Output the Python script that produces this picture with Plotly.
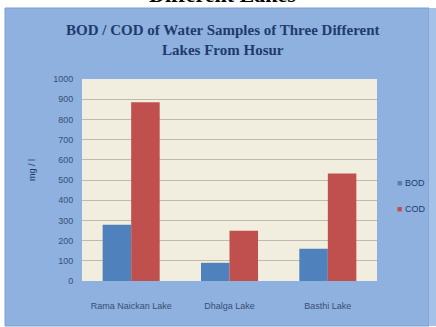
import plotly.graph_objects as go

# Sample data (mg / l)
lakes = ["Rama Naickan Lake", "Dhalga Lake", "Basthi Lake"]
bod = [278, 90, 160]
cod = [885, 249, 532]
y_ticks = list(range(0, 1001, 100))
series_colors = {"BOD": "#4F81BD", "COD": "#C0504D"}

W, H = 436, 327
L, R, T, B = 82, 59, 79, 46
PW, PH = W - L - R, H - T - B


def px(x):
    return (x - L) / PW


def py(y):
    return 1 - (y - T) / PH


fig = go.Figure()
fig.add_trace(go.Bar(name="BOD", x=lakes, y=bod, marker_color=series_colors["BOD"],
                     marker_line_width=0))
fig.add_trace(go.Bar(name="COD", x=lakes, y=cod, marker_color=series_colors["COD"],
                     marker_line_width=0))

shapes = [
    # blue chart panel behind everything
    dict(type="rect", xref="paper", yref="paper", layer="below",
         x0=px(5), x1=px(429), y0=py(326), y1=py(8),
         fillcolor="#8EB1E0", line=dict(color="#7C9FD0", width=1)),
    dict(type="rect", xref="paper", yref="paper", layer="below",
         x0=px(429), x1=px(437), y0=py(326), y1=py(8),
         fillcolor="#A4C1E8", line=dict(width=0)),
    # cream plot area
    dict(type="rect", xref="paper", yref="paper", layer="below",
         x0=0, x1=1, y0=0, y1=1,
         fillcolor="#F1EEDF", line=dict(width=0)),
]

annotations = [
    dict(text="<b>Different Lakes</b>", xref="paper", yref="paper",
         x=px(222), y=py(-6), showarrow=False, xanchor="center", yanchor="middle",
         font=dict(family="Liberation Serif", size=22, color="#000000")),
    dict(text="<b>BOD / COD of Water Samples of Three Different<br>Lakes From Hosur</b>",
         xref="paper", yref="paper", x=px(223), y=py(40), showarrow=False,
         xanchor="center", yanchor="middle",
         font=dict(family="Liberation Serif", size=15, color="#1F3B6B")),
    dict(text="mg / l", xref="paper", yref="paper", x=px(32), y=py(170),
         showarrow=False, textangle=-90, xanchor="center", yanchor="middle",
         font=dict(family="Liberation Sans", size=9, color="#1F3B6B")),
]

# legend entries drawn as compact text keys
for i, (name, col) in enumerate(series_colors.items()):
    annotations.append(dict(
        text=f"<span style='color:{col}'>■</span> {name}",
        xref="paper", yref="paper", x=px(395), y=py(183 + 26 * i),
        showarrow=False, xanchor="left", yanchor="middle",
        font=dict(family="Liberation Sans Narrow, Liberation Sans", size=9,
                  color="#1F3B6B")))

fig.update_layout(
    width=W, height=H,
    margin=dict(l=L, r=R, t=T, b=B, pad=0, autoexpand=False),
    paper_bgcolor="#FFFFFF",
    plot_bgcolor="rgba(0,0,0,0)",
    barmode="group",
    bargap=0.42,
    bargroupgap=0,
    shapes=shapes,
    annotations=annotations,
    showlegend=False,
    font=dict(family="Liberation Sans Narrow, Liberation Sans", size=9,
              color="#3A4E73"),
)
fig.update_yaxes(range=[0, 1000], tickvals=y_ticks, showgrid=True,
                 gridcolor="#BEBBAA", gridwidth=1, zeroline=False,
                 showline=False, ticks="outside", ticklen=6,
                 tickcolor="rgba(0,0,0,0)", tickfont=dict(size=9))
fig.update_xaxes(showgrid=False, showline=False, ticks="outside", ticklen=16,
                 tickcolor="rgba(0,0,0,0)", tickfont=dict(size=9))

fig.write_html("out.html")
